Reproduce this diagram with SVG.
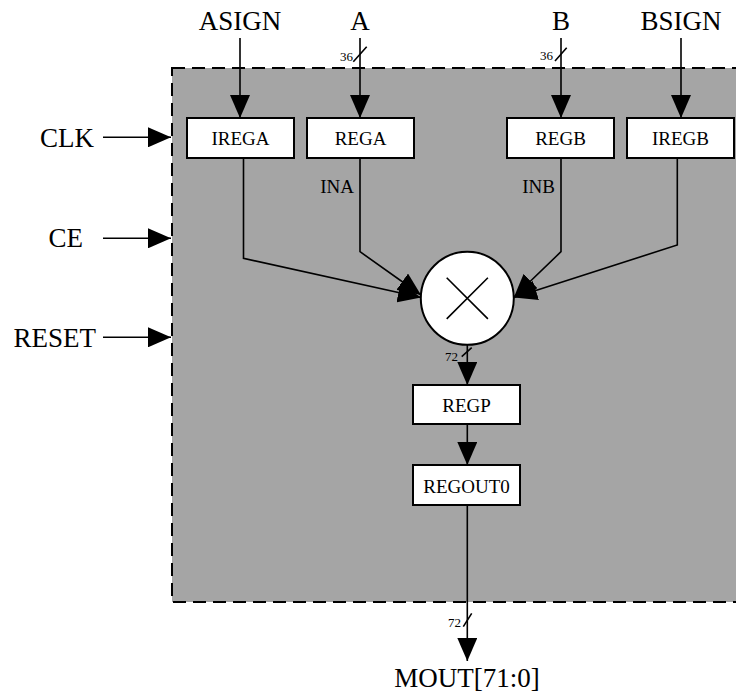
<svg xmlns="http://www.w3.org/2000/svg" width="736" height="695" viewBox="0 0 736 695">
<style>
text{font-family:'Liberation Serif','Noto Serif','DejaVu Serif',serif;fill:#000}
.big{font-size:27px}
.box{font-size:19px}
.sm{font-size:13px}
.bx{fill:#fff;stroke:#000;stroke-width:2}
.ln{fill:none;stroke:#000;stroke-width:1.6}
</style>
<defs>
<marker id="ah" viewBox="0 0 23 20" refX="23" refY="10" markerWidth="23" markerHeight="20" markerUnits="userSpaceOnUse" orient="auto">
<path d="M0,0 L23,10 L0,20 Z" fill="#000"/>
</marker>
</defs>
<rect id="block" x="172" y="68" width="600" height="534" fill="#a5a5a5" stroke="#000" stroke-width="2" stroke-dasharray="13,7"/>

<g id="labels" font-family="Liberation Serif, serif">
<text class="big" x="240" y="30" text-anchor="middle">ASIGN</text>
<text class="big" x="360" y="30" text-anchor="middle">A</text>
<text class="big" x="561" y="30" text-anchor="middle">B</text>
<text class="big" x="681" y="30" text-anchor="middle">BSIGN</text>
<text class="big" x="94" y="147" text-anchor="end">CLK</text>
<text class="big" x="83" y="247" text-anchor="end">CE</text>
<text class="big" x="96" y="347" text-anchor="end">RESET</text>
<text class="big" x="467" y="687" text-anchor="middle">MOUT[71:0]</text>
<text class="box" x="354" y="193" text-anchor="end">INA</text>
<text class="box" x="555" y="193" text-anchor="end">INB</text>
<text class="sm" x="353" y="61" text-anchor="end">36</text>
<text class="sm" x="553" y="60" text-anchor="end">36</text>
<text class="sm" x="458" y="361" text-anchor="end">72</text>
<text class="sm" x="461" y="627" text-anchor="end">72</text>
</g>

<g id="IREGA"><rect class="bx" x="187" y="118" width="107" height="40"/><text class="box" x="240.5" y="145" text-anchor="middle">IREGA</text></g>
<g id="REGA"><rect class="bx" x="307" y="118" width="107" height="40"/><text class="box" x="360.5" y="145" text-anchor="middle">REGA</text></g>
<g id="REGB"><rect class="bx" x="507" y="118" width="107" height="40"/><text class="box" x="560.5" y="145" text-anchor="middle">REGB</text></g>
<g id="IREGB"><rect class="bx" x="627" y="118" width="107" height="40"/><text class="box" x="680.5" y="145" text-anchor="middle">IREGB</text></g>
<g id="MULT"><circle cx="467.3" cy="298.3" r="46.5" fill="#fff" stroke="#000" stroke-width="2"/><path d="M446.7,277.7 L487.9,318.9 M487.9,277.7 L446.7,318.9" class="ln"/></g>
<g id="REGP"><rect class="bx" x="413" y="385" width="107" height="39"/><text class="box" x="466.5" y="412" text-anchor="middle">REGP</text></g>
<g id="REGOUT0"><rect class="bx" x="413" y="465" width="107" height="40"/><text class="box" x="466.5" y="493" text-anchor="middle">REGOUT0</text></g>

<g id="connectors">
<path class="ln" d="M240,38 L240,118" marker-end="url(#ah)"/>
<path class="ln" d="M360,38 L360,118" marker-end="url(#ah)"/>
<path class="ln" d="M561,38 L561,118" marker-end="url(#ah)"/>
<path class="ln" d="M681,38 L681,118" marker-end="url(#ah)"/>
<path class="ln" d="M103,137.3 L171,137.3" marker-end="url(#ah)"/>
<path class="ln" d="M103,238.3 L171,238.3" marker-end="url(#ah)"/>
<path class="ln" d="M103,337.3 L171,337.3" marker-end="url(#ah)"/>
<path class="ln" d="M243.5,158 L243.5,258.3 L421,297.5" marker-end="url(#ah)"/>
<path class="ln" d="M360,158 L360,251.7 L421,295" marker-end="url(#ah)"/>
<path class="ln" d="M561,158 L561,251.7 L514,297" marker-end="url(#ah)"/>
<path class="ln" d="M677.3,158 L677.3,245 L514,297.5" marker-end="url(#ah)"/>
<path class="ln" d="M467.3,344.8 L467.3,385" marker-end="url(#ah)"/>
<path class="ln" d="M467.3,424 L467.3,465" marker-end="url(#ah)"/>
<path class="ln" d="M467.3,505 L467.3,661" marker-end="url(#ah)"/>
<path class="ln" d="M353.3,61.7 L366.7,46.7 M555,61 L566.7,47.7 M461.7,356.7 L471.7,347.7 M463.3,626.7 L471.7,613.3"/>
</g>
</svg>
